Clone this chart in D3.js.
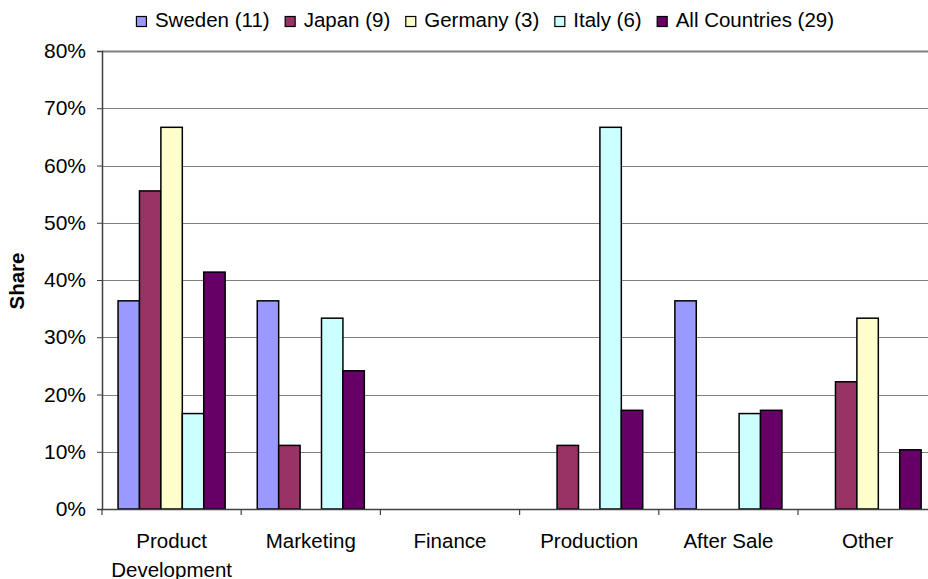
<!DOCTYPE html>
<html>
<head>
<meta charset="utf-8">
<script src="https://cdn.jsdelivr.net/npm/d3@7"></script>
<style>
  html, body { margin: 0; padding: 0; background: #fff; }
  svg { display: block; font-family: "Liberation Sans", Arial, sans-serif; }
</style>
</head>
<body>
<svg id="chart" width="928" height="579"></svg>
<script>
// Categories along the x axis (multi-line labels split on "\n")
const categories = ["Product\nDevelopment", "Marketing", "Finance", "Production", "After Sale", "Other"];

// Series names as shown in the legend
const seriesNames = ["Sweden (11)", "Japan (9)", "Germany (3)", "Italy (6)", "All Countries (29)"];

// Share of firms per category, one array per series
const sweden = [0.3636, 0.3636, 0, 0, 0.3636, 0];
const japan = [0.5556, 0.1111, 0, 0.1111, 0, 0.2222];
const germany = [0.6667, 0, 0, 0, 0, 0.3333];
const italy = [0.1667, 0.3333, 0, 0.6667, 0.1667, 0];
const allCountries = [0.4138, 0.2414, 0, 0.1724, 0.1724, 0.1034];

const yTicks = [0, 0.1, 0.2, 0.3, 0.4, 0.5, 0.6, 0.7, 0.8];

const seriesValues = [sweden, japan, germany, italy, allCountries];
const colors = ["#9999FF", "#993366", "#FFFFCC", "#CCFFFF", "#660066"];

const svg = d3.select("#chart");
const plotLeft = 102, plotTop = 51, plotBottom = 509;
const catWidth = 139.2;
const plotRight = plotLeft + catWidth * categories.length;
const fontSize = 20.5;

const x0 = d3.scaleBand().domain(categories).range([plotLeft, plotRight]).padding(0);
// Excel-style gap width of 150% between clusters
const barW = catWidth / (seriesNames.length + 1.5);
const x1 = d3.scaleBand().domain(d3.range(seriesNames.length))
  .range([barW * 0.75, barW * 0.75 + barW * seriesNames.length]).padding(0);
const y = d3.scaleLinear().domain([0, 0.8]).range([plotBottom, plotTop]);

// Horizontal gridlines
svg.append("g").selectAll("line").data(yTicks.slice(1)).join("line")
  .attr("x1", plotLeft).attr("x2", 928)
  .attr("y1", d => Math.round(y(d)) + 0.5).attr("y2", d => Math.round(y(d)) + 0.5)
  .attr("stroke", "#808080")
  .attr("stroke-width", d => d === 0.8 ? 2 : 1);

// Bars
const groups = svg.append("g").selectAll("g").data(categories).join("g")
  .attr("transform", d => `translate(${x0(d)},0)`);
groups.selectAll("rect")
  .data((c, ci) => seriesValues.map((vals, si) => ({ si, v: vals[ci] })).filter(d => d.v > 0))
  .join("rect")
  .attr("x", d => x1(d.si))
  .attr("width", x1.bandwidth())
  .attr("y", d => y(d.v))
  .attr("height", d => y(0) - y(d.v))
  .attr("fill", d => colors[d.si])
  .attr("stroke", "#000")
  .attr("stroke-width", 1.5);

// Y axis
const yAxis = d3.axisLeft(y).tickValues(yTicks).tickFormat(d3.format(".0%")).tickSize(5).tickPadding(11);
const gy = svg.append("g").attr("transform", `translate(${plotLeft},0)`).call(yAxis);
gy.select(".domain").attr("stroke", "#404040").attr("stroke-width", 1.5);
gy.selectAll(".tick line").attr("stroke", "#404040");
gy.selectAll("text").attr("font-size", 21).attr("fill", "#000")
  .attr("font-family", "Liberation Sans, Arial, sans-serif");

// X axis: ticks at category boundaries
const gx = svg.append("g");
gx.append("line").attr("x1", plotLeft).attr("x2", 928).attr("y1", plotBottom + 0.5).attr("y2", plotBottom + 0.5)
  .attr("stroke", "#404040").attr("stroke-width", 1.5);
gx.selectAll("line.t").data(d3.range(categories.length + 1)).join("line").attr("class", "t")
  .attr("x1", i => plotLeft + i * catWidth).attr("x2", i => plotLeft + i * catWidth)
  .attr("y1", plotBottom).attr("y2", plotBottom + 6)
  .attr("stroke", "#404040").attr("stroke-width", 1.2);
const labels = gx.selectAll("text").data(categories).join("text")
  .attr("x", d => x0(d) + catWidth / 2)
  .attr("y", 548)
  .attr("text-anchor", "middle")
  .attr("font-size", fontSize)
  .attr("fill", "#000");
labels.selectAll("tspan").data(d => d.split("\n")).join("tspan")
  .attr("x", function () { return d3.select(this.parentNode).attr("x"); })
  .attr("dy", (d, i) => i === 0 ? 0 : 28.5)
  .text(d => d);

// Y axis title
svg.append("text")
  .attr("transform", "translate(24,281) rotate(-90)")
  .attr("text-anchor", "middle")
  .attr("font-size", fontSize)
  .attr("font-weight", "bold")
  .text("Share");

// Legend, laid out left to right and centred over the chart
const legend = svg.append("g");
let lx = 0;
seriesNames.forEach((name, i) => {
  legend.append("rect")
    .attr("x", lx + 0.5).attr("y", 16.5).attr("width", 10).attr("height", 10)
    .attr("fill", colors[i]).attr("stroke", "#000").attr("stroke-width", 1.2);
  const t = legend.append("text")
    .attr("x", lx + 19).attr("y", 27)
    .attr("font-size", fontSize).attr("fill", "#000")
    .text(name);
  lx += 19 + t.node().getComputedTextLength() + (i < seriesNames.length - 1 ? 15 : 0);
});
legend.attr("transform", `translate(${485 - lx / 2},0)`);
</script>
</body>
</html>
